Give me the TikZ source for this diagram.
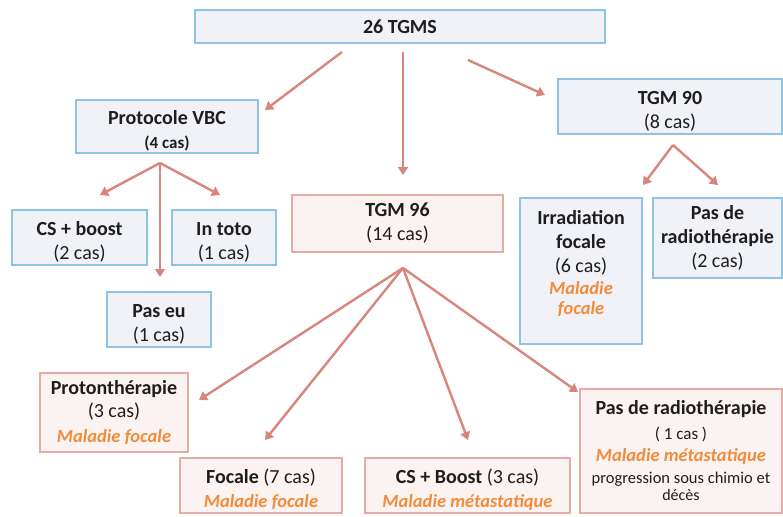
\documentclass[tikz,border=0pt]{standalone}
\usepackage{fontspec}
\setmainfont{Carlito}
\usetikzlibrary{arrows.meta,calc}
\definecolor{bborder}{HTML}{8EC3E6}
\definecolor{bfill}{HTML}{F0F2F7}
\definecolor{pborder}{HTML}{E6ACA3}
\definecolor{pfill}{HTML}{FBF3F1}
\definecolor{arrc}{HTML}{D7867B}
\definecolor{orng}{HTML}{F28B3A}
\definecolor{txt}{HTML}{1E1E1E}
\newcommand{\Ttl}{\fontsize{20}{24}\selectfont\bfseries}
\newcommand{\Nrm}{\fontsize{20}{24}\selectfont\mdseries}
\newcommand{\Sml}{\fontsize{17}{24}\selectfont\mdseries}
\newcommand{\Tny}{\fontsize{16.5}{24}\selectfont\mdseries}
\newcommand{\Mal}{\fontsize{18.5}{24}\selectfont\bfseries\itshape\color{orng}}
\newcommand{\Dn}{\rule{0pt}{22pt}}
\begin{document}
\begin{tikzpicture}[x=1pt,y=-1pt,
 bluebox/.style={draw=bborder,fill=bfill,line width=1.4pt,inner sep=0pt,align=center,text=txt,font=\Nrm},
 pinkbox/.style={draw=pborder,fill=pfill,line width=1.4pt,inner sep=0pt,align=center,text=txt,font=\Nrm},
 arr/.style={draw=arrc,line width=2.4pt,-{Triangle[length=8pt,width=10pt]}}]
\useasboundingbox (0,0) rectangle (783,516);
% nodes
\node[bluebox,minimum width=410pt,minimum height=33pt] (top) at (400,26.5) {{\Ttl 26 TGMS}};
\node[bluebox,minimum width=182pt,minimum height=53pt] (pvbc) at (167,126.5) {{\Dn\Ttl Protocole VBC}\\{\fontsize{17}{24}\selectfont\bfseries (4 cas)}};
\node[bluebox,minimum width=224pt,minimum height=55pt] (tgm90) at (670,106.5) {{\Dn\Ttl TGM 90}\\{\Nrm (8 cas)}};
\node[bluebox,minimum width=135pt,minimum height=55pt] (csb) at (79.5,237.5) {{\Dn\Ttl CS + boost}\\{\Nrm (2 cas)}};
\node[bluebox,minimum width=104pt,minimum height=55pt] (intoto) at (224,237.5) {{\Dn\Ttl In toto}\\{\Nrm (1 cas)}};
\node[bluebox,minimum width=104pt,minimum height=55pt] (paseu) at (159,319.5) {{\Dn\Ttl Pas eu}\\{\Nrm (1 cas)}};
\node[pinkbox,minimum width=211pt,minimum height=57pt] (tgm96) at (397.5,223.5) {{\Ttl TGM 96}\\{\Nrm (14 cas)}};
\node[bluebox,minimum width=122pt,minimum height=146pt] (irr) at (581,271) {{\Ttl Irradiation}\\{\Ttl focale}\\{\Nrm (6 cas)}\\[-2pt]{\Mal Maladie}\\[-4pt]{\Mal focale}\\[-6pt]\mbox{}};
\node[bluebox,minimum width=129pt,minimum height=80pt] (pdr90) at (717.5,238) {{\Ttl Pas de}\\{\Ttl radiothérapie}\\{\Nrm (2 cas)}};
\node[pinkbox,minimum width=148pt,minimum height=79pt] (proton) at (114,412.5) {{\Ttl Protonthérapie}\\[-1pt]{\Nrm (3 cas)}\\[1pt]{\Mal Maladie focale}};
\node[pinkbox,minimum width=162pt,minimum height=55pt] (focale) at (261,485.5) {{\Dn\Ttl Focale} {\Nrm (7 cas)}\\{\Mal Maladie focale}};
\node[pinkbox,minimum width=205pt,minimum height=55pt] (csboost) at (467.5,485.5) {{\Dn\Ttl CS + Boost} {\Nrm (3 cas)}\\{\Mal Maladie métastatique}};
\node[pinkbox,minimum width=202pt,minimum height=124pt] (pdr96) at (681,451) {{\Ttl Pas de radiothérapie}\\[1pt]{\Sml ( 1 cas )}\\[-2pt]{\Mal Maladie métastatique}\\[-2pt]{\Tny progression sous chimio et}\\[-7pt]{\fontsize{16}{24}\selectfont décès}};
% connector points
\coordinate (t1s) at (342,52);  \coordinate (t1e) at (265,110);
\coordinate (t2s) at (403,52);  \coordinate (t2e) at (403,175);
\coordinate (t3s) at (468,60);  \coordinate (t3e) at (545,95);
\coordinate (pA) at (160,163);
\coordinate (pL) at (100,195);  \coordinate (pR) at (220,195); \coordinate (pD) at (160,277);
\coordinate (gA) at (673,145);
\coordinate (gL) at (643,185);  \coordinate (gR) at (718,185);
\coordinate (sA) at (403,268);
\coordinate (s1) at (199,400);  \coordinate (s2) at (265,440);
\coordinate (s3) at (468,440);  \coordinate (s4) at (578,392);
% connectors
\draw[arr] (t1s) -- (t1e);
\draw[arr] (t2s) -- (t2e);
\draw[arr] (t3s) -- (t3e);
\draw[arr] (pA) -- (pL);
\draw[arr] (pA) -- (pR);
\draw[arr] (pA) -- (pD);
\draw[arr] (gA) -- (gL);
\draw[arr] (gA) -- (gR);
\draw[arr] (sA) -- (s1);
\draw[arr] (sA) -- (s2);
\draw[arr] (sA) -- (s3);
\draw[arr] (sA) -- (s4);
\end{tikzpicture}
\end{document}
